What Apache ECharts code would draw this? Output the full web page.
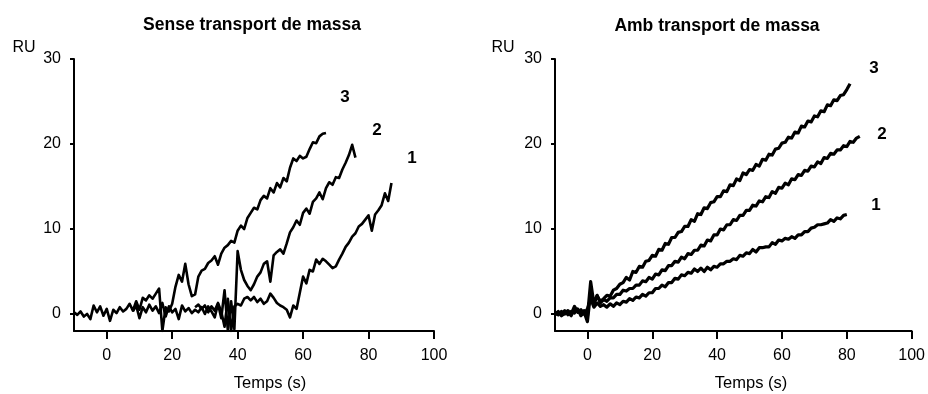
<!DOCTYPE html>
<html>
<head>
<meta charset="utf-8">
<script src="https://cdn.jsdelivr.net/npm/echarts@6/dist/echarts.min.js"></script>
<style>html,body{margin:0;padding:0;background:#fff}#c{width:928px;height:394px}</style>
</head>
<body>
<div id="c"></div>
<script>
// Tick labels
const xTicks = [0, 20, 40, 60, 80, 100];
const yTicks = [0, 10, 20, 30];
const titles = ['Sense transport de massa', 'Amb transport de massa'];
const curveNames = ['1', '2', '3'];

// Left panel ("Sense transport de massa"), sampled every 1 s from start time
const sense3Start = -10;
const sense3 = [0.2,-0.1,0.3,-0.3,0.0,-0.6,1.0,0.2,0.9,-0.2,0.6,-0.8,0.5,0.1,0.8,0.3,0.6,1.2,0.4,1.5,0.5,1.9,1.6,2.2,1.8,2.4,3.0,-2.0,0.8,0.3,1.2,3.2,4.6,3.8,5.9,3.5,2.1,2.3,4.4,5.1,5.3,6.0,6.3,6.8,5.8,7.1,7.8,8.1,8.6,8.4,9.8,10.4,10.0,11.3,11.9,12.5,12.3,13.4,13.9,13.6,14.8,14.3,15.4,14.9,16.0,15.6,17.2,18.3,18.0,18.6,18.3,18.5,19.4,20.2,20.1,20.9,21.2,21.3];
const sense2Start = 8;
const sense2 = [0.3,1.0,-0.5,0.8,0.2,1.1,0.4,0.9,0.1,1.3,-0.3,0.9,0.2,0.6,-0.6,1.0,0.3,0.7,0.1,0.5,0.2,0.8,0.0,0.9,0.3,-0.4,1.2,-0.5,2.8,-1.9,1.5,-1.8,7.4,5.2,4.0,3.3,2.8,3.5,4.4,4.9,5.9,6.2,3.8,6.9,7.3,7.6,7.1,8.3,9.6,10.2,11.0,10.5,11.9,12.4,11.8,13.2,13.6,14.3,13.5,14.8,15.5,15.2,16.1,16.0,17.0,17.8,18.7,19.9,18.4];
const sense1Start = 27;
const sense1 = [0.8,1.1,0.6,1.0,0.2,0.9,0.4,1.3,0.3,-1.5,1.8,-2.0,0.9,1.2,1.0,1.8,2.0,1.6,2.0,1.4,1.8,1.2,1.5,2.4,1.9,1.3,1.0,0.8,0.5,-0.4,1.0,0.6,2.5,4.4,3.6,5.2,5.0,6.4,5.9,6.5,6.2,5.8,5.4,5.6,6.4,7.1,7.9,8.4,9.1,9.5,10.3,10.6,11.1,11.6,9.8,11.7,12.2,12.8,14.2,13.3,15.4];

// Right panel ("Amb transport de massa"), sampled every 1 s from start time
const amb3Start = -10;
const amb3 = [0.1,-0.1,0.3,0.0,0.2,-0.2,0.7,0.3,0.1,0.4,-0.3,3.8,1.2,2.1,1.5,1.8,2.2,2.1,2.8,3.0,3.5,3.7,4.3,4.0,5.0,4.9,5.6,5.5,6.2,6.3,6.9,6.8,7.6,7.5,8.3,8.2,9.0,9.0,9.6,9.7,10.3,10.3,11.1,10.9,11.8,11.7,12.5,12.4,13.1,13.2,13.8,13.8,14.5,14.4,15.2,15.1,15.9,15.7,16.6,16.4,17.0,16.9,17.6,17.4,18.2,18.1,18.8,18.7,19.4,19.5,20.1,20.2,20.8,20.7,21.4,21.3,22.1,22.0,22.7,22.6,23.3,23.2,23.9,23.8,24.6,24.5,25.2,25.1,25.7,25.8,26.4,27.1];
const amb2Start = -10;
const amb2 = [-0.1,0.2,0.0,0.4,-0.1,0.3,0.1,0.6,-0.2,0.2,-0.9,2.6,1.4,2.2,1.3,1.7,1.5,1.9,1.9,2.3,2.3,2.8,2.7,3.0,3.0,3.4,3.4,3.9,3.8,4.3,4.1,4.7,4.6,5.2,5.1,5.7,5.7,6.2,6.1,6.7,6.5,7.1,7.0,7.5,7.5,8.1,8.0,8.7,8.6,9.3,9.3,10.0,9.9,10.5,10.5,11.1,11.0,11.6,11.6,12.2,12.2,12.8,12.7,13.3,13.2,13.8,13.7,14.4,14.2,14.9,14.8,15.4,15.2,15.9,15.8,16.4,16.3,16.9,16.8,17.4,17.3,17.9,17.7,18.4,18.3,18.9,18.8,19.3,19.3,19.8,19.7,20.3,20.2,20.7,20.9];
const amb1Start = -10;
const amb1 = [0.0,0.3,-0.2,0.1,0.4,0.0,0.9,0.2,0.5,0.0,0.6,1.8,0.8,1.3,0.9,1.1,0.8,1.2,0.9,1.3,1.1,1.5,1.4,1.8,1.6,2.0,1.9,2.3,2.1,2.5,2.5,3.0,3.0,3.4,3.2,3.7,3.7,4.2,4.1,4.6,4.5,4.9,4.8,5.3,5.0,5.4,5.0,5.5,5.2,5.6,5.5,5.9,5.9,6.2,6.2,6.5,6.4,6.9,6.8,7.2,7.1,7.6,7.3,7.8,7.8,7.9,7.9,8.4,8.2,8.7,8.6,8.9,8.8,9.1,8.9,9.3,9.3,9.7,9.7,10.1,10.2,10.5,10.5,10.6,10.7,11.1,10.9,11.3,11.2,11.6,11.7];

function pairs(start, vals) { return vals.map((v, i) => [start + i, v]); }

const FONT = 'Liberation Sans, Arial, sans-serif';
const grids = [
  { left: 74, width: 360, top: 59, height: 272 },
  { left: 555, width: 358, top: 59, height: 272 }
];

function xAxis(i) {
  return {
    gridIndex: i, type: 'value', min: -10, max: 100,
    axisLine: { onZero: false, lineStyle: { color: '#000', width: 2 } },
    axisTick: { customValues: xTicks, length: 8, lineStyle: { color: '#000', width: 2 } },
    axisLabel: { customValues: xTicks, margin: 17, color: '#000', fontSize: 16, fontFamily: FONT },
    splitLine: { show: false }
  };
}
function yAxis(i) {
  return {
    gridIndex: i, type: 'value', min: -2, max: 30,
    axisLine: { onZero: false, lineStyle: { color: '#000', width: 2 } },
    axisTick: { customValues: yTicks, length: 4, lineStyle: { color: '#000', width: 2 } },
    axisLabel: { customValues: yTicks, margin: 13, color: '#000', fontSize: 16, fontFamily: FONT },
    splitLine: { show: false }
  };
}
function line(xi, data, w) {
  return {
    type: 'line', xAxisIndex: xi, yAxisIndex: xi, data: data,
    showSymbol: false, symbol: 'none', animation: false,
    lineStyle: { color: '#000', width: w, join: 'round' }
  };
}
function txt(x, y, s, size, bold) {
  return { type: 'text', x: x, y: y, style: { text: s, fill: '#000', font: (bold ? 'bold ' : '') + size + 'px ' + FONT, textAlign: 'center', textVerticalAlign: 'middle' } };
}

const chart = echarts.init(document.getElementById('c'), null, { renderer: 'canvas' });
chart.setOption({
  backgroundColor: '#fff',
  animation: false,
  grid: grids,
  xAxis: [xAxis(0), xAxis(1)],
  yAxis: [yAxis(0), yAxis(1)],
  series: [
    line(0, pairs(sense1Start, sense1), 2.6),
    line(0, pairs(sense2Start, sense2), 2.6),
    line(0, pairs(sense3Start, sense3), 2.6),
    line(1, pairs(amb1Start, amb1), 3.2),
    line(1, pairs(amb2Start, amb2), 3.2),
    line(1, pairs(amb3Start, amb3), 3.2)
  ],
  graphic: [
    txt(252, 25, titles[0], 17.5, true),
    txt(717, 26, titles[1], 17.5, true),
    txt(24, 48, 'RU', 16, false),
    txt(503, 48, 'RU', 16, false),
    txt(270, 383, 'Temps (s)', 16.5, false),
    txt(751, 383, 'Temps (s)', 16.5, false),
    txt(345, 97, curveNames[2], 17, true),
    txt(377, 130, curveNames[1], 17, true),
    txt(412, 158, curveNames[0], 17, true),
    txt(874, 68, curveNames[2], 17, true),
    txt(882, 134, curveNames[1], 17, true),
    txt(876, 205, curveNames[0], 17, true)
  ]
});
</script>
</body>
</html>
